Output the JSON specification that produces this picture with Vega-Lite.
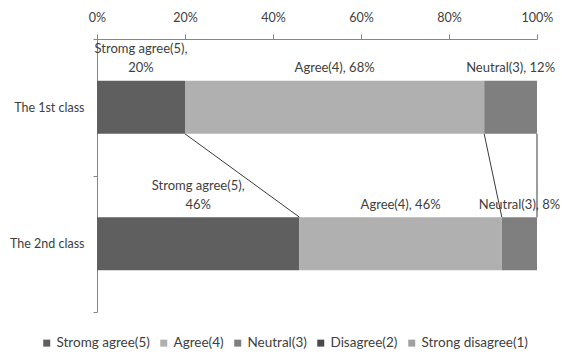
{
  "$schema": "https://vega.github.io/schema/vega-lite/v6.json",
  "width": 440,
  "height": 273,
  "autosize": "none",
  "padding": {"left": 97, "top": 39, "right": 25, "bottom": 47},
  "background": "white",
  "config": {
    "view": {"stroke": null},
    "font": "Lato",
    "text": {"font": "Lato"}
  },
  "datasets": {
    "bars": [
      {"class": "The 1st class", "level": "Stromg agree(5)", "score": 5, "pct": 20, "head": "Stromg agree(5),", "tail": "20%"},
      {"class": "The 1st class", "level": "Agree(4)", "score": 4, "pct": 68, "head": "", "tail": "Agree(4),  68%"},
      {"class": "The 1st class", "level": "Neutral(3)", "score": 3, "pct": 12, "head": "", "tail": "Neutral(3), 12%"},
      {"class": "The 2nd class", "level": "Stromg agree(5)", "score": 5, "pct": 46, "head": "Stromg agree(5),", "tail": "46%"},
      {"class": "The 2nd class", "level": "Agree(4)", "score": 4, "pct": 46, "head": "", "tail": "Agree(4),  46%"},
      {"class": "The 2nd class", "level": "Neutral(3)", "score": 3, "pct": 8, "head": "", "tail": "Neutral(3), 8%"}
    ],
    "series": [
      {"from": "The 1st class", "to": "The 2nd class", "start": 20, "end": 46},
      {"from": "The 1st class", "to": "The 2nd class", "start": 88, "end": 92},
      {"from": "The 1st class", "to": "The 2nd class", "start": 100, "end": 100}
    ]
  },
  "layer": [
    {
      "data": {"name": "bars"},
      "mark": {"type": "bar", "height": {"band": 0.39}},
      "encoding": {
        "y": {
          "field": "class", "type": "nominal", "title": null,
          "scale": {"paddingInner": 0, "paddingOuter": 0},
          "axis": {
            "tickBand": "extent", "domainColor": "#868686", "tickColor": "#868686",
            "tickSize": 4, "labelPadding": 9, "labelFontSize": 12.5, "labelColor": "#404040", "labelFont": "Lato"
          }
        },
        "x": {
          "field": "pct", "type": "quantitative", "stack": "zero", "title": null,
          "scale": {"domain": [0, 100], "nice": false},
          "axis": {
            "orient": "top", "values": [0, 20, 40, 60, 80, 100], "labelExpr": "datum.value + '%'",
            "grid": false, "domainColor": "#868686", "tickColor": "#868686", "tickSize": 5,
            "labelPadding": 10, "labelFontSize": 12.5, "labelColor": "#404040", "labelFont": "Lato",
            "labelFlush": false
          }
        },
        "order": {"field": "score", "sort": "descending"},
        "color": {
          "field": "level", "type": "nominal",
          "scale": {
            "domain": ["Stromg agree(5)", "Agree(4)", "Neutral(3)", "Disagree(2)", "Strong disagree(1)"],
            "range": ["#5f5f5f", "#b0b0b0", "#7f7f7f", "#4a4a4a", "#a0a0a0"]
          },
          "legend": {
            "title": null, "orient": "none", "direction": "horizontal", "columns": 5,
            "legendX": -57, "legendY": 297, "symbolType": "square", "symbolSize": 49,
            "symbolStrokeWidth": 0, "labelFontSize": 13.5, "labelColor": "#404040", "labelFont": "Lato",
            "labelOffset": 3, "columnPadding": 7
          }
        }
      }
    },
    {
      "data": {"name": "bars"},
      "mark": {"type": "text", "baseline": "middle", "dy": -39, "fontSize": 13, "color": "#404040"},
      "encoding": {
        "y": {"field": "class", "type": "nominal"},
        "x": {"field": "pct", "type": "quantitative", "stack": "zero", "bandPosition": 0.5},
        "order": {"field": "score", "sort": "descending"},
        "detail": {"field": "level"},
        "text": {"field": "tail"}
      }
    },
    {
      "data": {"name": "bars"},
      "mark": {"type": "text", "baseline": "middle", "dy": -58, "fontSize": 13, "color": "#404040"},
      "encoding": {
        "y": {"field": "class", "type": "nominal"},
        "x": {"field": "pct", "type": "quantitative", "stack": "zero", "bandPosition": 0.5},
        "order": {"field": "score", "sort": "descending"},
        "detail": {"field": "level"},
        "text": {"field": "head"}
      }
    },
    {
      "data": {"name": "series"},
      "mark": {"type": "rule", "color": "#3a3a3a", "strokeWidth": 1},
      "encoding": {
        "y": {"field": "from", "type": "nominal", "bandPosition": 0.695},
        "y2": {"field": "to", "bandPosition": 0.305},
        "x": {"field": "start", "type": "quantitative"},
        "x2": {"field": "end"}
      }
    }
  ]
}
